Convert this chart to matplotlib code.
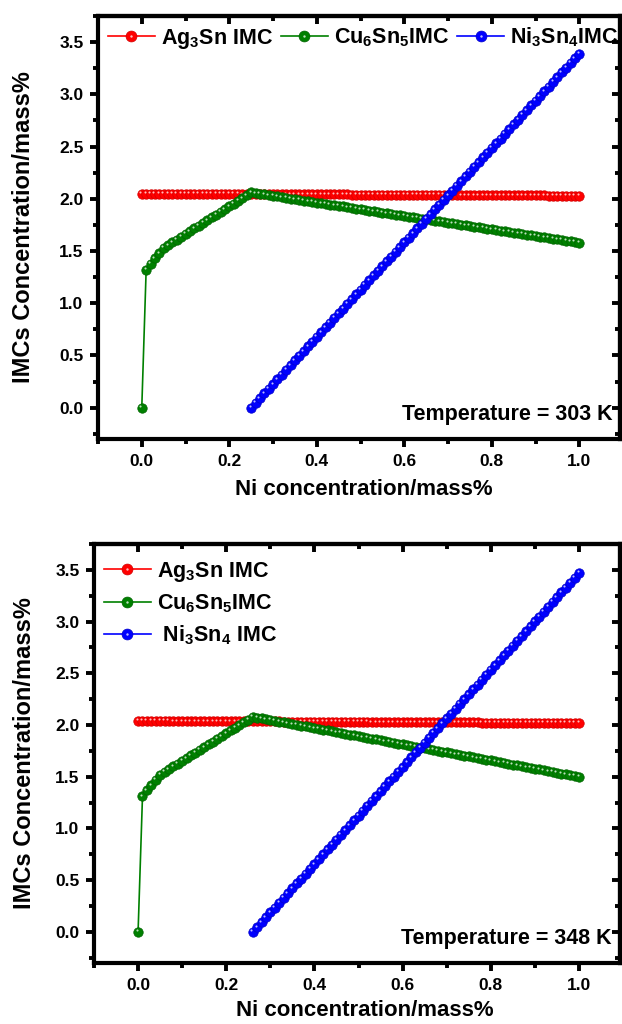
import numpy as np
import matplotlib
matplotlib.use('Agg')
import matplotlib.pyplot as plt
from matplotlib.ticker import MultipleLocator
from matplotlib.transforms import offset_copy
from matplotlib.legend_handler import HandlerTuple

plt.rcParams['font.family'] = 'Liberation Sans'
plt.rcParams['font.weight'] = 'bold'
plt.rcParams['mathtext.fontset'] = 'custom'
plt.rcParams['mathtext.rm'] = 'Liberation Sans:bold'
plt.rcParams['mathtext.it'] = 'Liberation Sans:bold'
plt.rcParams['mathtext.bf'] = 'Liberation Sans:bold'
plt.rcParams['mathtext.default'] = 'rm'

# Ni additions (mass%)
ni = [0.00, 0.01, 0.02, 0.03, 0.04, 0.05, 0.06, 0.07, 0.08, 0.09,
      0.10, 0.11, 0.12, 0.13, 0.14, 0.15, 0.16, 0.17, 0.18, 0.19,
      0.20, 0.21, 0.22, 0.23, 0.24, 0.25, 0.26, 0.27, 0.28, 0.29,
      0.30, 0.31, 0.32, 0.33, 0.34, 0.35, 0.36, 0.37, 0.38, 0.39,
      0.40, 0.41, 0.42, 0.43, 0.44, 0.45, 0.46, 0.47, 0.48, 0.49,
      0.50, 0.51, 0.52, 0.53, 0.54, 0.55, 0.56, 0.57, 0.58, 0.59,
      0.60, 0.61, 0.62, 0.63, 0.64, 0.65, 0.66, 0.67, 0.68, 0.69,
      0.70, 0.71, 0.72, 0.73, 0.74, 0.75, 0.76, 0.77, 0.78, 0.79,
      0.80, 0.81, 0.82, 0.83, 0.84, 0.85, 0.86, 0.87, 0.88, 0.89,
      0.90, 0.91, 0.92, 0.93, 0.94, 0.95, 0.96, 0.97, 0.98, 0.99,
      1.00]

# ---- 303 K ----
ag_303 = [2.050, 2.050, 2.050, 2.049, 2.049, 2.049, 2.049, 2.049, 2.048, 2.048,
          2.048, 2.048, 2.048, 2.047, 2.047, 2.047, 2.047, 2.047, 2.046, 2.046,
          2.046, 2.046, 2.046, 2.045, 2.045, 2.045, 2.045, 2.045, 2.044, 2.044,
          2.044, 2.044, 2.044, 2.043, 2.043, 2.043, 2.043, 2.043, 2.042, 2.042,
          2.042, 2.042, 2.042, 2.041, 2.041, 2.041, 2.041, 2.041, 2.040, 2.040,
          2.040, 2.040, 2.040, 2.039, 2.039, 2.039, 2.039, 2.039, 2.038, 2.038,
          2.038, 2.038, 2.038, 2.037, 2.037, 2.037, 2.037, 2.037, 2.036, 2.036,
          2.036, 2.036, 2.036, 2.035, 2.035, 2.035, 2.035, 2.035, 2.034, 2.034,
          2.034, 2.034, 2.034, 2.033, 2.033, 2.033, 2.033, 2.033, 2.032, 2.032,
          2.032, 2.032, 2.032, 2.031, 2.031, 2.031, 2.031, 2.031, 2.030, 2.030,
          2.030]
cu_303 = [0.000, 1.320, 1.380, 1.430, 1.480, 1.530, 1.556, 1.583, 1.609, 1.636,
          1.663, 1.689, 1.716, 1.742, 1.769, 1.795, 1.822, 1.848, 1.875, 1.901,
          1.928, 1.954, 1.981, 2.007, 2.034, 2.060, 2.054, 2.047, 2.041, 2.034,
          2.028, 2.022, 2.015, 2.009, 2.002, 1.996, 1.990, 1.983, 1.977, 1.970,
          1.964, 1.958, 1.951, 1.945, 1.938, 1.932, 1.926, 1.919, 1.913, 1.906,
          1.900, 1.894, 1.887, 1.881, 1.874, 1.868, 1.862, 1.855, 1.849, 1.842,
          1.836, 1.830, 1.823, 1.817, 1.810, 1.804, 1.798, 1.791, 1.785, 1.778,
          1.772, 1.766, 1.759, 1.753, 1.746, 1.740, 1.734, 1.727, 1.721, 1.714,
          1.708, 1.702, 1.695, 1.689, 1.682, 1.676, 1.670, 1.663, 1.657, 1.650,
          1.644, 1.638, 1.631, 1.625, 1.618, 1.612, 1.606, 1.599, 1.593, 1.586,
          1.580]
# Ni3Sn4 only appears from 0.25 mass% Ni
nisn_303 = [0.000, 0.045, 0.090, 0.136, 0.181,
            0.226, 0.271, 0.316, 0.362, 0.407, 0.452, 0.497, 0.542, 0.588, 0.633,
            0.678, 0.723, 0.768, 0.814, 0.859, 0.904, 0.949, 0.994, 1.040, 1.085,
            1.130, 1.175, 1.220, 1.266, 1.311, 1.356, 1.401, 1.446, 1.492, 1.537,
            1.582, 1.627, 1.672, 1.718, 1.763, 1.808, 1.853, 1.898, 1.944, 1.989,
            2.034, 2.079, 2.124, 2.170, 2.215, 2.260, 2.305, 2.350, 2.396, 2.441,
            2.486, 2.531, 2.576, 2.622, 2.667, 2.712, 2.757, 2.802, 2.848, 2.893,
            2.938, 2.983, 3.028, 3.074, 3.119, 3.164, 3.209, 3.254, 3.300, 3.345,
            3.390]

# ---- 348 K ----
ag_348 = [2.040, 2.040, 2.040, 2.039, 2.039, 2.039, 2.039, 2.039, 2.038, 2.038,
          2.038, 2.038, 2.038, 2.037, 2.037, 2.037, 2.037, 2.037, 2.036, 2.036,
          2.036, 2.036, 2.036, 2.035, 2.035, 2.035, 2.035, 2.035, 2.034, 2.034,
          2.034, 2.034, 2.034, 2.033, 2.033, 2.033, 2.033, 2.033, 2.032, 2.032,
          2.032, 2.032, 2.032, 2.031, 2.031, 2.031, 2.031, 2.031, 2.030, 2.030,
          2.030, 2.030, 2.030, 2.029, 2.029, 2.029, 2.029, 2.029, 2.028, 2.028,
          2.028, 2.028, 2.028, 2.027, 2.027, 2.027, 2.027, 2.027, 2.026, 2.026,
          2.026, 2.026, 2.026, 2.025, 2.025, 2.025, 2.025, 2.025, 2.024, 2.024,
          2.024, 2.024, 2.024, 2.023, 2.023, 2.023, 2.023, 2.023, 2.022, 2.022,
          2.022, 2.022, 2.022, 2.021, 2.021, 2.021, 2.021, 2.021, 2.020, 2.020,
          2.020]
cu_348 = [0.000, 1.310, 1.370, 1.420, 1.470, 1.520, 1.547, 1.573, 1.600, 1.627,
          1.653, 1.680, 1.707, 1.733, 1.760, 1.787, 1.813, 1.840, 1.867, 1.893,
          1.920, 1.947, 1.973, 2.000, 2.027, 2.053, 2.080, 2.072, 2.064, 2.056,
          2.049, 2.041, 2.033, 2.025, 2.017, 2.009, 2.002, 1.994, 1.986, 1.978,
          1.970, 1.962, 1.955, 1.947, 1.939, 1.931, 1.923, 1.915, 1.908, 1.900,
          1.892, 1.884, 1.876, 1.868, 1.861, 1.853, 1.845, 1.837, 1.829, 1.821,
          1.814, 1.806, 1.798, 1.790, 1.782, 1.774, 1.766, 1.759, 1.751, 1.743,
          1.735, 1.727, 1.719, 1.712, 1.704, 1.696, 1.688, 1.680, 1.672, 1.665,
          1.657, 1.649, 1.641, 1.633, 1.625, 1.618, 1.610, 1.602, 1.594, 1.586,
          1.578, 1.571, 1.563, 1.555, 1.547, 1.539, 1.531, 1.524, 1.516, 1.508,
          1.500]
# Ni3Sn4 starts at 0.26 mass% Ni at the higher temperature
nisn_348 = [0.000, 0.047, 0.094, 0.141,
            0.188, 0.234, 0.281, 0.328, 0.375, 0.422, 0.469, 0.516, 0.563, 0.610,
            0.656, 0.703, 0.750, 0.797, 0.844, 0.891, 0.938, 0.985, 1.032, 1.079,
            1.125, 1.172, 1.219, 1.266, 1.313, 1.360, 1.407, 1.454, 1.501, 1.547,
            1.594, 1.641, 1.688, 1.735, 1.782, 1.829, 1.876, 1.923, 1.969, 2.016,
            2.063, 2.110, 2.157, 2.204, 2.251, 2.298, 2.345, 2.391, 2.438, 2.485,
            2.532, 2.579, 2.626, 2.673, 2.720, 2.767, 2.814, 2.860, 2.907, 2.954,
            3.001, 3.048, 3.095, 3.142, 3.189, 3.236, 3.282, 3.329, 3.376, 3.423,
            3.470]

colors = {'ag': '#ff0000', 'cu': '#008000', 'ni': '#0000ff'}
edges = {'ag': '#d00000', 'cu': '#006400', 'ni': '#0000c8'}
labels_303 = ['Ag$_3$Sn IMC', 'Cu$_6$Sn$_5$IMC', 'Ni$_3$Sn$_4$IMC']
labels_348 = ['Ag$_3$Sn IMC', 'Cu$_6$Sn$_5$IMC', ' Ni$_3$Sn$_4$ IMC']

fig = plt.figure(figsize=(6.22, 10.24), dpi=100)
ax1 = fig.add_axes([0.1576, 0.5713, 0.8392, 0.4131])
ax2 = fig.add_axes([0.1511, 0.0596, 0.8457, 0.4092])


def ball(ax, x, y, key):
    # coloured sphere with a small white glint on the upper left
    ln, = ax.plot(x, y, '-', color=colors[key], lw=1.2, marker='o', ms=6.8,
                  mfc=colors[key], mec=edges[key], mew=0.5)
    glint = offset_copy(ax.transData, fig=ax.figure, x=-1.5, y=1.5, units='dots')
    hl, = ax.plot(x, y, ls='none', marker='o', ms=1.5, mfc='white', mec='none',
                  alpha=0.75, transform=glint)
    return (ln, hl)


def panel(ax, ag, cu, nisn, start, labels, temp, one_row):
    h1 = ball(ax, ni, ag, 'ag')
    h2 = ball(ax, ni, cu, 'cu')
    h3 = ball(ax, ni[start:], nisn, 'ni')

    ax.set_xlim(-0.1, 1.093)
    ax.set_ylim(-0.3, 3.75)
    ax.xaxis.set_major_locator(MultipleLocator(0.2))
    ax.xaxis.set_minor_locator(MultipleLocator(0.1))
    ax.yaxis.set_major_locator(MultipleLocator(0.5))
    ax.yaxis.set_minor_locator(MultipleLocator(0.25))
    ax.tick_params(which='both', direction='out', width=2.8, labelsize=12.5)
    ax.tick_params(which='major', length=5.5, pad=5)
    ax.tick_params(which='minor', length=3.5)
    for s in ax.spines.values():
        s.set_linewidth(3)

    # mirrored inward ticks on top and right
    top = ax.secondary_xaxis('top')
    top.xaxis.set_major_locator(MultipleLocator(0.2))
    top.xaxis.set_minor_locator(MultipleLocator(0.1))
    top.tick_params(which='both', direction='in', width=2.8, labeltop=False)
    top.tick_params(which='major', length=5.5)
    top.tick_params(which='minor', length=3.5)
    right = ax.secondary_yaxis('right')
    right.yaxis.set_major_locator(MultipleLocator(0.5))
    right.yaxis.set_minor_locator(MultipleLocator(0.25))
    right.tick_params(which='both', direction='in', width=2.8, labelright=False)
    right.tick_params(which='major', length=5.5)
    right.tick_params(which='minor', length=3.5)
    for sec in (top, right):
        for s in sec.spines.values():
            s.set_linewidth(3)

    ax.set_xlabel('Ni concentration/mass%', fontsize=16, fontweight='bold')
    ax.set_ylabel('IMCs Concentration/mass%', fontsize=17, fontweight='bold')

    ax.text(0.985, 0.058, 'Temperature = %d K' % temp, transform=ax.transAxes,
            ha='right', va='center', fontsize=15.5, fontweight='bold')

    hmap = {tuple: HandlerTuple(ndivide=1, pad=0)}
    if one_row:
        ax.legend([h1, h2, h3], labels, loc='upper left', ncol=3, frameon=False,
                  fontsize=15.5, handlelength=2.2, handletextpad=0.26,
                  columnspacing=0.37, borderpad=0.2, borderaxespad=0.25,
                  markerscale=1.15, handler_map=hmap)
    else:
        ax.legend([h1, h2, h3], labels, loc='upper left',
                  bbox_to_anchor=(0.0, 0.985), frameon=False,
                  fontsize=15.5, handlelength=2.2, handletextpad=0.26,
                  labelspacing=0.4, borderpad=0.2, borderaxespad=0.25,
                  markerscale=1.15, handler_map=hmap)


panel(ax1, ag_303, cu_303, nisn_303, 25, labels_303, 303, True)
panel(ax2, ag_348, cu_348, nisn_348, 26, labels_348, 348, False)

ax1.yaxis.set_label_coords(-0.12, 0.5)
ax1.xaxis.set_label_coords(0.51, -0.095)
ax2.yaxis.set_label_coords(-0.111, 0.5)
ax2.xaxis.set_label_coords(0.515, -0.088)

fig.savefig('out.png', dpi=100)
